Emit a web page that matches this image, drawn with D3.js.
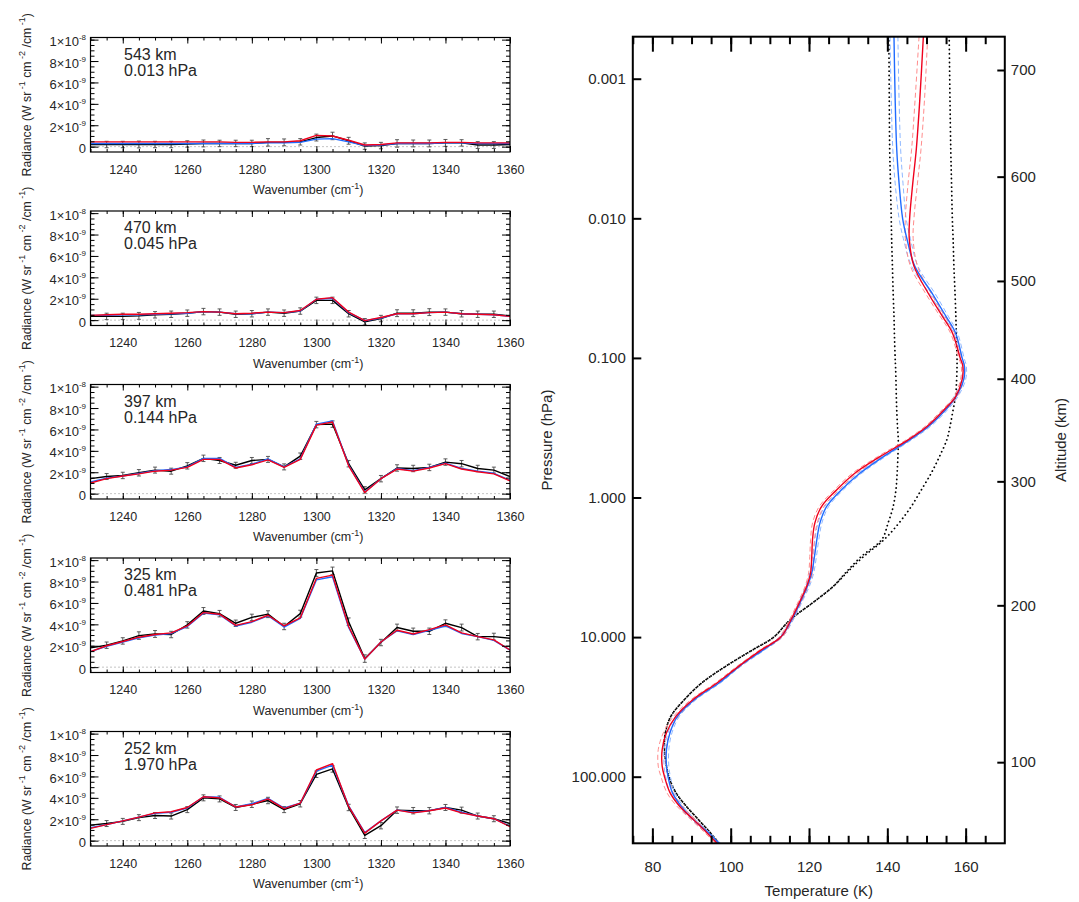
<!DOCTYPE html>
<html>
<head>
<meta charset="utf-8">
<script src="https://cdn.jsdelivr.net/npm/d3@7"></script>
<style>
  body { margin: 0; background: #ffffff; }
  svg text { font-family: "Liberation Sans", Arial, Helvetica, sans-serif; }
</style>
</head>
<body>
<svg id="chart" width="1079" height="902"></svg>
<script>

/////////////////////////////////////////////////
////////////////// Spectra data ////////////////
///////////////////////////////////////////////

const wavenumbers = [1230,1235,1240,1245,1250,1255,1260,1265,1270,1275,1280,1285,1290,1295,1300,1305,1310,1315,1320,1325,1330,1335,1340,1345,1350,1355,1360];
const waveTicks = [1240,1260,1280,1300,1320,1340,1360];

// radiance, in units of 1e-9 W sr-1 cm-2 /cm-1
const radTicks = [0, 2, 4, 6, 8, 10];
const radTickBase = ["0", "2×10", "4×10", "6×10", "8×10", "1×10"];
const radTickExp = ["", "-9", "-9", "-9", "-9", "-8"];

const panelAltitudes = ["543 km", "470 km", "397 km", "325 km", "252 km"];
const panelPressures = ["0.013 hPa", "0.045 hPa", "0.144 hPa", "0.481 hPa", "1.970 hPa"];

const obs543  = [0.20,0.20,0.20,0.20,0.20,0.20,0.25,0.30,0.30,0.30,0.30,0.40,0.40,0.45,0.85,1.00,0.55,0.05,0.10,0.30,0.30,0.30,0.35,0.35,0.15,0.15,0.20];
const blue543 = [0.30,0.30,0.30,0.30,0.30,0.30,0.30,0.30,0.30,0.30,0.30,0.35,0.35,0.40,0.70,0.75,0.45,0.10,0.15,0.30,0.30,0.30,0.35,0.35,0.30,0.30,0.30];
const red543  = [0.45,0.45,0.45,0.45,0.45,0.45,0.45,0.45,0.45,0.40,0.40,0.45,0.45,0.55,1.05,1.00,0.60,0.15,0.20,0.35,0.35,0.35,0.40,0.40,0.35,0.35,0.35];
const err543  = [0.30,0.30,0.30,0.32,0.30,0.30,0.30,0.32,0.30,0.30,0.30,0.35,0.32,0.30,0.32,0.35,0.32,0.30,0.30,0.35,0.32,0.32,0.32,0.30,0.32,0.32,0.30];

const obs470  = [0.35,0.35,0.35,0.40,0.50,0.55,0.65,0.80,0.75,0.55,0.60,0.75,0.65,0.85,1.85,1.85,0.60,-0.15,0.15,0.65,0.65,0.75,0.75,0.60,0.55,0.55,0.40];
const blue470 = [0.45,0.45,0.50,0.50,0.55,0.60,0.65,0.80,0.75,0.60,0.60,0.75,0.70,0.85,1.95,2.05,0.70,-0.05,0.20,0.60,0.60,0.70,0.75,0.60,0.55,0.50,0.35];
const red470  = [0.45,0.50,0.55,0.55,0.60,0.65,0.70,0.80,0.75,0.60,0.65,0.75,0.70,0.90,1.95,2.10,0.75,-0.05,0.25,0.60,0.60,0.70,0.75,0.60,0.55,0.50,0.35];
const err470  = [0.30,0.30,0.30,0.32,0.30,0.30,0.30,0.30,0.30,0.30,0.30,0.30,0.30,0.30,0.30,0.30,0.30,0.30,0.30,0.32,0.32,0.32,0.30,0.30,0.30,0.30,0.30];

const obs397  = [1.40,1.60,1.70,1.95,2.20,2.10,2.60,3.30,3.10,2.65,3.10,3.20,2.50,3.50,6.45,6.50,2.80,0.35,1.40,2.40,2.35,2.45,2.95,2.80,2.35,2.20,1.60];
const blue397 = [1.10,1.45,1.65,1.90,2.15,2.25,2.50,3.30,3.30,2.45,2.75,3.25,2.50,3.25,6.50,6.80,2.65,0.15,1.40,2.35,2.15,2.45,2.85,2.35,2.10,1.90,1.25];
const red397  = [1.00,1.40,1.65,1.85,2.10,2.20,2.45,3.20,3.20,2.40,2.70,3.15,2.45,3.20,6.40,6.70,2.60,0.10,1.40,2.30,2.10,2.40,2.80,2.30,2.05,1.85,1.20];
const err397  = [0.30,0.28,0.30,0.30,0.28,0.28,0.30,0.30,0.28,0.28,0.28,0.28,0.28,0.30,0.30,0.30,0.30,0.30,0.30,0.30,0.30,0.30,0.30,0.30,0.30,0.28,0.30];

const obs325  = [1.80,2.05,2.45,2.95,3.10,3.05,3.95,5.25,5.00,4.10,4.65,4.95,3.80,5.00,8.80,9.00,4.25,0.80,2.30,3.70,3.35,3.35,4.10,3.70,2.85,2.85,2.70];
const blue325 = [1.45,1.95,2.35,2.75,3.00,3.15,3.80,5.05,4.90,3.85,4.20,4.80,3.75,4.55,8.15,8.45,3.70,0.75,2.35,3.40,3.05,3.45,3.85,3.15,2.85,2.50,1.60];
const red325  = [1.45,2.00,2.40,2.80,3.05,3.20,3.85,5.10,4.95,3.90,4.25,4.85,3.85,4.60,8.30,8.60,3.80,0.75,2.35,3.45,3.10,3.50,3.95,3.20,2.85,2.55,1.60];
const err325  = [0.30,0.30,0.30,0.35,0.32,0.30,0.30,0.32,0.30,0.30,0.30,0.32,0.30,0.32,0.32,0.35,0.35,0.35,0.30,0.32,0.30,0.30,0.32,0.32,0.30,0.32,0.30];

const obs252  = [1.45,1.60,1.80,2.15,2.35,2.30,2.90,4.00,3.90,3.10,3.40,3.75,2.90,3.45,6.20,6.70,3.10,0.50,1.40,2.85,2.80,2.80,3.10,2.85,2.30,2.05,1.60];
const blue252 = [1.20,1.50,1.85,2.20,2.55,2.65,3.05,4.10,4.05,3.15,3.45,3.95,3.05,3.50,6.50,7.05,3.25,0.75,1.85,2.85,2.65,2.80,3.10,2.65,2.30,2.05,1.35];
const red252  = [1.15,1.50,1.85,2.20,2.60,2.70,3.10,4.10,4.00,3.15,3.35,3.90,3.00,3.50,6.60,7.20,3.20,0.70,1.85,2.85,2.60,2.80,3.05,2.60,2.30,2.05,1.30];
const err252  = [0.30,0.28,0.28,0.28,0.28,0.28,0.28,0.28,0.28,0.28,0.30,0.30,0.28,0.30,0.30,0.30,0.30,0.30,0.30,0.30,0.30,0.30,0.28,0.28,0.28,0.28,0.30];

/////////////////////////////////////////////////
/////////////// Temperature profile ////////////
///////////////////////////////////////////////

const pressureLevels = [0.0005,0.0014,0.0032,0.0056,0.01,0.014,0.022,0.035,0.05,0.066,0.1,0.115,0.143,0.19,0.235,0.31,0.385,0.51,0.67,0.88,1.16,1.52,2.0,2.64,3.47,4.33,5.39,7.6,10,12.3,16.2,21.3,28,37,48.5,64,84,100,130,162,202,252,300];
const tempBlue = [141.7,142.0,142.4,143.0,143.9,145.0,147.0,151.6,154.9,157.4,159.1,159.7,159.5,157.5,154.9,150.5,145.8,139.0,133.0,128.3,124.5,122.8,122.0,121.4,120.7,119.6,118.1,115.5,112.8,108.4,102.2,97.0,90.8,86.4,84.5,83.6,83.6,84.0,85.1,87.3,90.4,94.3,97.0];
const tempRed  = [149.2,148.3,147.4,146.5,145.7,145.6,146.8,150.6,154.0,156.6,158.6,159.3,159.1,157.4,154.5,150.1,145.4,138.1,131.7,127.1,123.2,121.5,120.9,120.7,120.4,119.4,117.9,115.3,112.8,107.9,102.0,96.5,90.4,86.0,83.6,82.5,82.5,83.1,84.5,86.9,90.4,93.9,96.5];
const errBlue  = [1.0,1.0,1.0,1.0,0.9,0.9,0.8,0.7,0.6,0.5,0.5,0.5,0.5,0.5,0.5,0.5,0.5,0.5,0.5,0.5,0.5,0.5,0.5,0.5,0.5,0.5,0.4,0.4,0.4,0.4,0.4,0.4,0.4,0.5,0.5,0.6,0.6,0.6,0.6,0.5,0.5,0.4,0.4];
const errRed   = [1.1,1.2,1.2,1.2,1.1,1.0,0.9,0.7,0.6,0.5,0.4,0.4,0.4,0.4,0.5,0.5,0.5,0.6,0.6,0.6,0.6,0.6,0.5,0.5,0.5,0.4,0.4,0.4,0.4,0.4,0.4,0.4,0.5,0.6,0.8,1.0,1.0,0.9,0.8,0.7,0.6,0.5,0.4];
const tempDotCold = [140.4,140.5,140.6,140.8,141.0,141.1,141.3,141.5,141.7,141.8,142.0,142.1,142.2,142.3,142.4,142.6,142.8,142.7,142.5,142.2,141.5,140.2,138.6,133.4,129.3,126.2,122.0,115.0,111.0,105.7,98.7,92.6,88.2,84.7,83.3,83.1,83.6,84.2,86.0,88.6,91.7,94.8,97.0];
const tempDotWarm = [155.8,156.0,156.2,156.4,156.6,156.8,157.0,157.3,157.5,157.6,157.8,157.8,157.7,157.4,156.8,156.0,155.2,153.3,151.2,148.7,146.1,143.0,139.2,134.0,129.6,126.2,122.0,115.0,111.0,105.7,98.7,92.6,88.2,84.7,83.3,83.1,83.6,84.2,86.0,88.6,91.7,94.8,97.0];

const pressureTicks = [0.001, 0.01, 0.1, 1, 10, 100];
const pressureTickLabels = ["0.001", "0.010", "0.100", "1.000", "10.000", "100.000"];
const tempTicks = [80, 100, 120, 140, 160];
const altitudeTicks = [100, 200, 300, 400, 500, 600, 700];
const altitudeTickPressures = [78.7, 5.92, 0.766, 0.141, 0.0281, 0.00503, 0.000866];

/////////////////////////////////////////////////
//////////////////// Styling ///////////////////
///////////////////////////////////////////////

const blueColour = "#1f6bff";
const redColour = "#f0001c";
const blueDash = "#8fb8ff";
const redDash = "#ff8c8c";
const textColour = "#262626";
const fontFamily = '"Liberation Sans", Arial, Helvetica, sans-serif';

const svg = d3.select("#chart");

const panels = [
  { obs: obs543, blue: blue543, red: red543, err: err543 },
  { obs: obs470, blue: blue470, red: red470, err: err470 },
  { obs: obs397, blue: blue397, red: red397, err: err397 },
  { obs: obs325, blue: blue325, red: red325, err: err325 },
  { obs: obs252, blue: blue252, red: red252, err: err252 }
];

/// constants for the spectra panels ///
const panelLeft = 90.5;
const panelRight = 510;
const panelTop = 37.5;
const panelStep = 173.5;
const panelHeight = 114.5;

const xWave = d3.scaleLinear().domain([1230, 1360]).range([panelLeft, panelRight]);

// helper: text with superscripts, parts = [[text, isSup], ...]
function writeParts(textSel, parts, supSize, supShift) {
  parts.forEach(([str, sup], k) => {
    const prevSup = k > 0 && parts[k - 1][1];
    let dy = 0;
    if (sup && !prevSup) dy = -supShift;
    if (!sup && prevSup) dy = supShift;
    const t = textSel.append("tspan").text(str);
    if (dy !== 0) t.attr("dy", dy);
    if (sup) t.attr("font-size", supSize);
  });
}

function styleAxis(g, width) {
  g.select(".domain").remove();
  g.selectAll(".tick line").attr("stroke", "#000").attr("stroke-width", width);
  g.attr("font-family", fontFamily);
  g.selectAll(".tick text").attr("fill", textColour);
}

panels.forEach((panel, i) => {
  const top = panelTop + i * panelStep;
  const bottom = top + panelHeight;
  const yRad = d3.scaleLinear().domain([-0.5, 10.2]).range([bottom, top]);

  const g = svg.append("g").attr("class", "spectrum-panel");

  g.append("clipPath").attr("id", `clip-${i}`)
    .append("rect")
      .attr("x", panelLeft).attr("y", top)
      .attr("width", panelRight - panelLeft).attr("height", panelHeight);

  const plot = g.append("g").attr("clip-path", `url(#clip-${i})`);

  /// zero line ///
  plot.append("line")
    .attr("x1", panelLeft).attr("x2", panelRight)
    .attr("y1", yRad(0)).attr("y2", yRad(0))
    .attr("stroke", "#8a8a8a")
    .attr("stroke-width", 1)
    .attr("stroke-dasharray", "1,3");

  /// error bars ///
  const bars = plot.selectAll(".err-bar")
    .data(wavenumbers.map((w, j) => ({ w, v: panel.obs[j], e: panel.err[j] }))
      .filter(d => d.w > 1230 && d.w < 1360))
    .join("g")
    .classed("err-bar", true)
      .attr("stroke", "#4a4a4a")
      .attr("stroke-width", 0.9);
  bars.append("line")
    .attr("x1", d => xWave(d.w)).attr("x2", d => xWave(d.w))
    .attr("y1", d => yRad(d.v - d.e)).attr("y2", d => yRad(d.v + d.e));
  bars.append("line")
    .attr("x1", d => xWave(d.w) - 2).attr("x2", d => xWave(d.w) + 2)
    .attr("y1", d => yRad(d.v - d.e)).attr("y2", d => yRad(d.v - d.e));
  bars.append("line")
    .attr("x1", d => xWave(d.w) - 2).attr("x2", d => xWave(d.w) + 2)
    .attr("y1", d => yRad(d.v + d.e)).attr("y2", d => yRad(d.v + d.e));

  /// spectra ///
  const line = d3.line()
    .x((d, j) => xWave(wavenumbers[j]))
    .y(d => yRad(d));

  plot.selectAll(".spectrum")
    .data([
      { values: panel.obs, colour: "#000000" },
      { values: panel.blue, colour: blueColour },
      { values: panel.red, colour: redColour }
    ])
    .join("path")
    .classed("spectrum", true)
      .attr("d", d => line(d.values))
      .attr("fill", "none")
      .attr("stroke", d => d.colour)
      .attr("stroke-width", 1.4)
      .attr("stroke-linejoin", "round");

  /// frame ///
  g.append("rect")
    .attr("x", panelLeft).attr("y", top)
    .attr("width", panelRight - panelLeft).attr("height", panelHeight)
    .attr("fill", "none")
    .attr("stroke", "#000")
    .attr("stroke-width", 1.2);

  /// ticks (inward, all four sides) ///
  const minorWave = d3.range(1230, 1361, 5);
  const minorRad = d3.range(0, 10.01, 0.5);

  g.append("g").attr("transform", `translate(0,${bottom})`)
    .call(d3.axisBottom(xWave).tickValues(minorWave).tickSize(-3).tickFormat(""))
    .call(a => styleAxis(a, 1));
  g.append("g").attr("transform", `translate(0,${top})`)
    .call(d3.axisTop(xWave).tickValues(minorWave).tickSize(-3).tickFormat(""))
    .call(a => styleAxis(a, 1));
  g.append("g").attr("transform", `translate(0,${top})`)
    .call(d3.axisTop(xWave).tickValues(waveTicks).tickSize(-6).tickFormat(""))
    .call(a => styleAxis(a, 1));
  g.append("g").attr("transform", `translate(0,${bottom})`)
    .call(d3.axisBottom(xWave).tickValues(waveTicks).tickSize(-6).tickPadding(13).tickFormat(d3.format("d")))
    .call(a => styleAxis(a, 1))
    .attr("font-size", 12.5);

  g.append("g").attr("transform", `translate(${panelLeft},0)`)
    .call(d3.axisLeft(yRad).tickValues(minorRad).tickSize(-4).tickFormat(""))
    .call(a => styleAxis(a, 1));
  g.append("g").attr("transform", `translate(${panelLeft},0)`)
    .call(d3.axisLeft(yRad).tickValues(radTicks).tickSize(-8).tickFormat(""))
    .call(a => styleAxis(a, 1));
  g.append("g").attr("transform", `translate(${panelRight},0)`)
    .call(d3.axisRight(yRad).tickValues(minorRad).tickSize(-4).tickFormat(""))
    .call(a => styleAxis(a, 1));
  g.append("g").attr("transform", `translate(${panelRight},0)`)
    .call(d3.axisRight(yRad).tickValues(radTicks).tickSize(-8).tickFormat(""))
    .call(a => styleAxis(a, 1));

  /// y tick labels with exponents ///
  const yLabels = g.selectAll(".rad-label")
    .data(radTicks)
    .join("text")
    .classed("rad-label", true)
      .attr("x", panelLeft - 4.5)
      .attr("y", d => yRad(d) + 6.5)
      .attr("text-anchor", "end")
      .attr("font-size", 13)
      .attr("fill", textColour);
  yLabels.each(function(d, k) {
    const parts = radTickExp[k] ? [[radTickBase[k], false], [radTickExp[k], true]] : [[radTickBase[k], false]];
    writeParts(d3.select(this), parts, 8, 6);
  });

  /// x axis title ///
  const xTitle = g.append("text")
    .attr("x", (panelLeft + panelRight) / 2 + 8)
    .attr("y", bottom + 42)
    .attr("text-anchor", "middle")
    .attr("font-size", 12.5)
    .attr("fill", textColour);
  writeParts(xTitle, [["Wavenumber (cm", false], ["-1", true], [")", false]], 9, 5);

  /// y axis title ///
  const yTitle = g.append("text")
    .attr("transform", `translate(31,${(top + bottom) / 2}) rotate(-90)`)
    .attr("text-anchor", "middle")
    .attr("font-size", 12.3)
    .attr("fill", textColour);
  writeParts(yTitle, [["Radiance (W sr", false], [" -1", true], [" cm", false], [" -2", true], [" /cm", false], [" -1", true], [")", false]], 9, 6);

  /// altitude / pressure label ///
  g.append("text")
    .attr("x", 124).attr("y", top + 22)
    .attr("font-size", 16)
    .attr("fill", textColour)
    .text(panelAltitudes[i]);
  g.append("text")
    .attr("x", 124).attr("y", top + 38)
    .attr("font-size", 16)
    .attr("fill", textColour)
    .text(panelPressures[i]);
});

/////////////////////////////////////////////////
/////////////// Temperature panel //////////////
///////////////////////////////////////////////

const profLeft = 632.8;
const profRight = 1004.8;
const profTop = 36.7;
const profBottom = 843.3;

const xTemp = d3.scaleLinear().domain([75, 170]).range([profLeft, profRight]);
const yPres = d3.scaleLog().domain([0.0005, 300]).range([profTop, profBottom]);

const prof = svg.append("g").attr("class", "profile-panel");

prof.append("clipPath").attr("id", "clip-prof")
  .append("rect")
    .attr("x", profLeft).attr("y", profTop)
    .attr("width", profRight - profLeft).attr("height", profBottom - profTop);

const profPlot = prof.append("g").attr("clip-path", "url(#clip-prof)");

const profLine = d3.line()
  .x(d => xTemp(d[0]))
  .y(d => yPres(d[1]))
  .curve(d3.curveCatmullRom.alpha(0.5));

const zipProfile = (temps, offsets, sign) =>
  temps.map((t, j) => [t + (offsets ? sign * offsets[j] : 0), pressureLevels[j]]);

const profileLines = [
  { pts: zipProfile(tempDotCold), colour: "#000", width: 1.8, dash: "0.1,4.2", cap: "round" },
  { pts: zipProfile(tempDotWarm), colour: "#000", width: 1.8, dash: "0.1,4.2", cap: "round" },
  { pts: zipProfile(tempBlue, errBlue, -1), colour: blueDash, width: 1, dash: "5,3", cap: "butt" },
  { pts: zipProfile(tempBlue, errBlue, 1), colour: blueDash, width: 1, dash: "5,3", cap: "butt" },
  { pts: zipProfile(tempRed, errRed, -1), colour: redDash, width: 1, dash: "5,3", cap: "butt" },
  { pts: zipProfile(tempRed, errRed, 1), colour: redDash, width: 1, dash: "5,3", cap: "butt" },
  { pts: zipProfile(tempBlue), colour: blueColour, width: 1.4, dash: null, cap: "butt" },
  { pts: zipProfile(tempRed), colour: redColour, width: 1.4, dash: null, cap: "butt" }
];

profPlot.selectAll(".profile")
  .data(profileLines)
  .join("path")
  .classed("profile", true)
    .attr("d", d => profLine(d.pts))
    .attr("fill", "none")
    .attr("stroke", d => d.colour)
    .attr("stroke-width", d => d.width)
    .attr("stroke-dasharray", d => d.dash)
    .attr("stroke-linecap", d => d.cap);

/// frame ///
prof.append("rect")
  .attr("x", profLeft).attr("y", profTop)
  .attr("width", profRight - profLeft).attr("height", profBottom - profTop)
  .attr("fill", "none")
  .attr("stroke", "#000")
  .attr("stroke-width", 2);

/// temperature axes (bottom with labels, top ticks only) ///
const minorTemp = d3.range(75, 170, 5);

prof.append("g").attr("transform", `translate(0,${profBottom})`)
  .call(d3.axisBottom(xTemp).tickValues(minorTemp).tickSize(-7.5).tickFormat(""))
  .call(a => styleAxis(a, 2));
prof.append("g").attr("transform", `translate(0,${profBottom})`)
  .call(d3.axisBottom(xTemp).tickValues(tempTicks).tickSize(-15).tickPadding(18.5).tickFormat(d3.format("d")))
  .call(a => styleAxis(a, 2))
  .attr("font-size", 15);
prof.append("g").attr("transform", `translate(0,${profTop})`)
  .call(d3.axisTop(xTemp).tickValues(minorTemp).tickSize(-7.5).tickFormat(""))
  .call(a => styleAxis(a, 2));
prof.append("g").attr("transform", `translate(0,${profTop})`)
  .call(d3.axisTop(xTemp).tickValues(tempTicks).tickSize(-15).tickFormat(""))
  .call(a => styleAxis(a, 2));

/// pressure axis (left) ///
prof.append("g").attr("transform", `translate(${profLeft},0)`)
  .call(d3.axisLeft(yPres).tickValues(pressureTicks).tickSize(-8.5).tickPadding(7)
    .tickFormat((d, k) => pressureTickLabels[k]))
  .call(a => styleAxis(a, 2))
  .attr("font-size", 15);

/// altitude axis (right) ///
prof.append("g").attr("transform", `translate(${profRight},0)`)
  .call(d3.axisRight(yPres).tickValues(altitudeTickPressures).tickSize(-7.5).tickPadding(6)
    .tickFormat((d, k) => altitudeTicks[k]))
  .call(a => styleAxis(a, 2))
  .attr("font-size", 15);

/// axis titles ///
prof.append("text")
  .attr("x", (profLeft + profRight) / 2)
  .attr("y", 896)
  .attr("text-anchor", "middle")
  .attr("font-size", 15)
  .attr("fill", textColour)
  .text("Temperature (K)");

prof.append("text")
  .attr("transform", `translate(552,${(profTop + profBottom) / 2}) rotate(-90)`)
  .attr("text-anchor", "middle")
  .attr("font-size", 15)
  .attr("fill", textColour)
  .text("Pressure (hPa)");

prof.append("text")
  .attr("transform", `translate(1066,${(profTop + profBottom) / 2}) rotate(-90)`)
  .attr("text-anchor", "middle")
  .attr("font-size", 15)
  .attr("fill", textColour)
  .text("Altitude (km)");

</script>
</body>
</html>
